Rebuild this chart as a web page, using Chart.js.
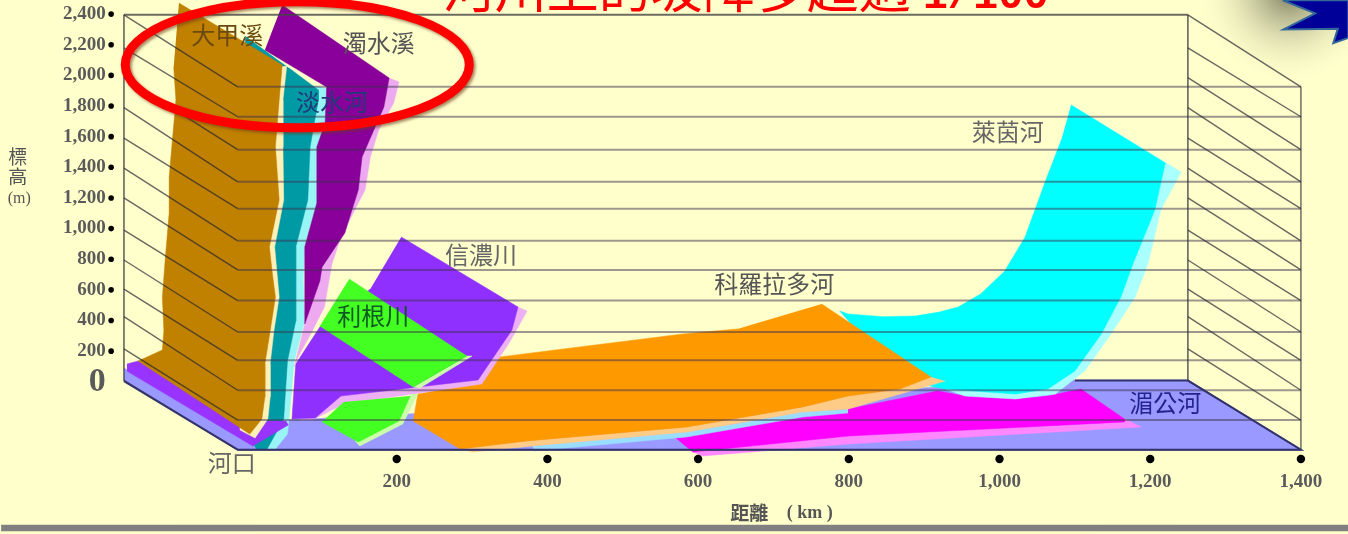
<!DOCTYPE html>
<html>
<head>
<meta charset="utf-8">
<script src="https://cdn.jsdelivr.net/npm/chart.js@4/dist/chart.umd.min.js"></script>
<style>
  html, body { margin: 0; padding: 0; background: #ffffcc; overflow: hidden; }
  canvas { display: block; filter: blur(0.6px); }
</style>
</head>
<body>
<canvas id="grafico" width="1348" height="534"></canvas>
<script>
// tick labels
const kmTicks = [200, 400, 600, 800, 1000, 1200, 1400];
const elevTicks = [0, 200, 400, 600, 800, 1000, 1200, 1400, 1600, 1800, 2000, 2200, 2400];

// wall lines (back plane -> front plane)
const backLevels = [2395, 2180, 1985, 1790, 1590, 1395, 1200, 990, 795, 605, 425, 215, 10];
const frontLevels = [1925, 1730, 1515, 1305, 1130, 920, 730, 530, 325, 140, -55, -250, -445];
const backLeftKm = -162, frontLeftKm = -11, backRightKm = 1250, frontRightKm = 1400;

// floor
const floorKm = [-162, -11, 1400, 1250, 1100, 58, 5, -162];
const floorElev = [5, -439, -439, 12, 12, -249, -380, 90];

// 湄公河
const mekongKm = [569, 593, 799, 1166, 1166, 1108, 1064, 1021, 954, 918, 799, 735, 646];
const mekongElev = [-360, -458, -354, -262, -243, -47, -93, -112, -93, -60, -178, -230, -275];
const mekongEdgeKm = [1166, 1188, 799, 606, 593, 799, 1166];
const mekongEdgeElev = [-243, -295, -406, -484, -458, -354, -262];

// 萊茵河
const rhineKm = [1095, 1220, 1206, 1177, 1161, 1135, 1100, 1064, 1021, 928, 868, 788, 799, 845, 888, 920, 945, 975, 1007, 1034, 1060, 1082];
const rhineElev = [1807, 1428, 1121, 769, 553, 312, 70, -47, -80, -47, 12, 462, 443, 425, 429, 455, 488, 573, 723, 945, 1298, 1578];
const rhineEdgeKm = [1095, 1241, 1214, 1197, 1180, 1148, 1113, 1074, 1021, 954, 928, 1021];
const rhineEdgeElev = [1807, 1369, 1121, 769, 553, 312, 70, -80, -112, -93, -47, -54];

// 科羅拉多河
const coloradoKm = [764, 909, 868, 799, 739, 585, 373, 284, 222, 228, 313, 326, 337, 453, 580, 652];
const coloradoElev = [508, 31, -47, -93, -164, -295, -386, -439, -256, -80, -1, 136, 162, 234, 312, 345];
const coloradoEdgeKm = [928, 799, 739, 585, 381, 301, 284, 373, 585, 739, 799, 868, 909];
const coloradoEdgeElev = [5, -178, -197, -328, -419, -458, -439, -386, -295, -164, -93, -47, 31];
const coloradoBlueKm = [799, 739, 585, 381, 381, 585, 739, 799];
const coloradoBlueElev = [-204, -230, -360, -452, -419, -328, -197, -178];

// 信濃川
const shinanoKm = [206, 361, 353, 308, 218, 126, 92, 61, 66, 98, 165];
const shinanoElev = [945, 488, 338, 12, -40, -93, -236, -243, 116, 358, 606];
const shinanoEdgeKm = [361, 373, 350, 313, 130, 88, 72, 92, 126, 218, 308, 353];
const shinanoEdgeElev = [488, 462, 260, -14, -145, -249, -249, -236, -93, -40, 12, 338];

// 利根川
const toneKm = [137, 293, 222, 98];
const toneElev = [671, 168, -34, 364];
const toneEdgeKm = [293, 300, 231, 222];
const toneEdgeElev = [168, 168, -40, -34];
const toneLowKm = [218, 203, 149, 101, 130];
const toneLowElev = [-93, -256, -393, -262, -132];
const toneLowEdgeKm = [228, 208, 151, 145, 203, 218];
const toneLowEdgeElev = [-80, -275, -419, -386, -236, -80];

// 淡水河
const danshuiKm = [57, 96, 96, 85, 82, 66, 66, 66, 55, 50, 28, 14, -8, -1];
const danshuiElev = [2048, 1905, 1839, 1533, 1187, 880, 658, 397, 136, -243, -439, -439, -249, 2257];
const danshuiEdgeKm = [107, 105, 94, 94, 78, 76, 78, 64, 57, 55, 39, 28, 19, 45];
const danshuiEdgeElev = [1918, 1689, 1533, 1167, 880, 658, 397, 136, -243, -341, -439, -439, 534, 1970];

// 濁水溪
const zhuoshuiKm = [48, 190, 183, 154, 149, 131, 101, 98, 78, 78, 78, 94, 94, 105, 107, 25];
const zhuoshuiElev = [2459, 1983, 1794, 1467, 1252, 971, 749, 658, 377, 658, 880, 1167, 1533, 1689, 1924, 2166];
const zhuoshuiEdgeKm = [190, 203, 196, 176, 165, 158, 149, 126, 114, 104, 88, 69, 64, 78, 98, 101, 131, 149, 154, 183];
const zhuoshuiEdgeElev = [1983, 1957, 1820, 1643, 1467, 1252, 1167, 945, 769, 488, 332, 162, 97, 377, 658, 749, 971, 1252, 1467, 1794];

// 大甲溪
const dajiaKm = [-89, 48, 44, 39, 44, 31, 35, 39, 32, 25, 25, 21, 5, -143, -111, -109, -111, -107, -102, -102, -93, -96];
const dajiaElev = [2472, 2068, 1839, 1533, 1187, 880, 704, 553, 332, 116, -99, -243, -341, 136, 208, 332, 553, 815, 1102, 1337, 1839, 2055];
const dajiaEdgeKm = [54, 49, 49, 50, 38, 44, 37, 32, 32, 29, 12, -8, -8];
const dajiaEdgeElev = [2061, 1839, 1533, 1187, 880, 553, 332, 116, -99, -243, -367, -315, 2035];

// purple strip along the river mouth
const mouthKm = [-158, -143, 5, 29, 53, 56, 9, -158];
const mouthElev = [116, 136, -328, -256, -256, -282, -419, 70];

// decorations cut off by the page edge
const starKm = [1376, 1419, 1377, 1449, 1443, 1463, 1463, 1376];
const starElev = [2490, 2405, 2300, 2305, 2210, 2245, 2490, 2490];
const barKm = [-325, 1463, 1463, -325];
const barElev = [-935, -935, -974, -974];

// river names and axis text
const labelText = ["大甲溪", "濁水溪", "淡水河", "信濃川", "利根川", "科羅拉多河", "萊茵河", "湄公河", "河口"];
const labelKm = [-25, 176, 114, 312, 169, 701, 1011, 1220, -19];
const labelElev = [2264, 2211, 1826, 828, 429, 638, 1630, -138, -530];
const labelColor = ["#6b4a10", "#555", "#203a78", "#666", "#0d5a20", "#555", "#666", "#232390", "#666"];

const toXY = (xs, ys) => xs.map((x, i) => ({ x: x, y: ys[i] }));

function poly(xs, ys, color, border) {
  return {
    data: toXY(xs, ys),
    fill: "shape",
    backgroundColor: color,
    borderColor: border || color,
    borderWidth: border ? 2 : 0.5,
    pointRadius: 0,
    tension: 0,
  };
}

function seg(xs, ys, color, width) {
  return {
    data: toXY(xs, ys),
    fill: false,
    borderColor: color,
    borderWidth: width,
    pointRadius: 0,
  };
}

// back to front, reversed later because Chart.js paints the first dataset last
const layers = [
  poly(barKm, barElev, "#808080"),
  poly(starKm, starElev, "#000099", "#336699"),
  poly(floorKm, floorElev, "#9999ff"),
  poly(mekongEdgeKm, mekongEdgeElev, "#ff88ff"),
  poly(mekongKm, mekongElev, "#ff00ff"),
  poly(rhineEdgeKm, rhineEdgeElev, "#aaffff"),
  poly(rhineKm, rhineElev, "#00ffff"),
  poly(coloradoBlueKm, coloradoBlueElev, "#99ddff"),
  poly(coloradoEdgeKm, coloradoEdgeElev, "#ffcc88"),
  poly(coloradoKm, coloradoElev, "#ff9900"),
  poly(shinanoEdgeKm, shinanoEdgeElev, "#eeb0f5"),
  poly(shinanoKm, shinanoElev, "#9030ff"),
  poly(toneEdgeKm, toneEdgeElev, "#ccffaa"),
  poly(toneKm, toneElev, "#44ff22"),
  poly(toneLowEdgeKm, toneLowEdgeElev, "#ccffaa"),
  poly(toneLowKm, toneLowElev, "#44ff22"),
  poly(danshuiEdgeKm, danshuiEdgeElev, "#99f5f5"),
  poly(danshuiKm, danshuiElev, "#009aa5"),
  poly(zhuoshuiEdgeKm, zhuoshuiEdgeElev, "#eeaaf0"),
  poly(zhuoshuiKm, zhuoshuiElev, "#880099"),
  poly(mouthKm, mouthElev, "#9933ff"),
  poly(dajiaEdgeKm, dajiaEdgeElev, "#fff0b8"),
  poly(dajiaKm, dajiaElev, "#c08000"),
];

// wall lines go over the rivers
const gridColor = "rgba(60,50,80,0.5)";
const hatchColor = "rgba(40,40,50,0.7)";
frontLevels.forEach((level, i) => {
  layers.push(seg([frontLeftKm, frontRightKm], [level, level], gridColor, 2));
  layers.push(seg([backLeftKm, frontLeftKm], [backLevels[i], level], hatchColor, 1.4));
  layers.push(seg([backRightKm, frontRightKm], [backLevels[i], level], hatchColor, 1.4));
});
layers.push(seg([backLeftKm, backRightKm], [2395, 2395], "rgba(70,70,70,0.8)", 2));
layers.push(seg([backLeftKm, backLeftKm], [2395, 5], "rgba(50,50,60,0.8)", 1.5));
layers.push(seg([backRightKm, backRightKm], [2395, 5], "rgba(50,50,60,0.8)", 1.5));
layers.push(seg([frontRightKm, frontRightKm], [1925, -445], "rgba(50,50,60,0.7)", 1.5));
layers.push(seg([backLeftKm, frontLeftKm, frontRightKm, backRightKm, 1100], [5, -443, -443, 8, 8], "#33336e", 2));

// tick dots
layers.push({
  data: elevTicks.filter((v) => v > 0).map((v) => ({ x: -179, y: v })),
  showLine: false,
  pointRadius: 2.8,
  pointBackgroundColor: "#000",
  pointBorderWidth: 0,
});
layers.push({
  data: kmTicks.map((v) => ({ x: v, y: -504 })),
  showLine: false,
  pointRadius: 4.2,
  pointBackgroundColor: "#000",
  pointBorderWidth: 0,
});

const decorations = {
  id: "decorations",
  beforeDraw(chart) {
    const { ctx, scales } = chart;
    ctx.save();
    ctx.fillStyle = "#ffffcc";
    ctx.fillRect(0, 0, chart.width, chart.height);
    // soft shadow under the star
    const sx = scales.x.getPixelForValue(1385);
    const sy = scales.y.getPixelForValue(2557);
    const glow = ctx.createRadialGradient(sx, sy, 5, sx, sy, 95);
    glow.addColorStop(0, "rgba(110,110,85,0.85)");
    glow.addColorStop(1, "rgba(255,255,204,0)");
    ctx.fillStyle = glow;
    ctx.fillRect(sx - 100, 0, 200, 90);
    ctx.restore();
  },
  afterDatasetsDraw(chart) {
    const { ctx, scales } = chart;
    const px = (v) => scales.x.getPixelForValue(v);
    const py = (v) => scales.y.getPixelForValue(v);
    ctx.save();
    ctx.textAlign = "center";
    ctx.textBaseline = "middle";
    ctx.font = '24px "Noto Sans CJK TC"';
    labelText.forEach((t, i) => {
      ctx.fillStyle = labelColor[i];
      ctx.fillText(t, px(labelKm[i]), py(labelElev[i]));
    });
    // axis titles
    ctx.fillStyle = "#555";
    ctx.font = 'bold 19px "Noto Sans CJK TC"';
    ctx.fillText("距離", px(668), py(-856));
    ctx.font = 'bold 18px "Liberation Serif"';
    ctx.fillText("( km )", px(748), py(-856));
    ctx.font = '19px "Noto Sans CJK TC"';
    ctx.fillText("標", px(-303), py(1467));
    ctx.fillText("高", px(-303), py(1337));
    ctx.font = '16px "Liberation Serif"';
    ctx.fillText("(m)", px(-301), py(1193));
    // title, cut by the top of the page
    ctx.fillStyle = "#ff0000";
    ctx.textAlign = "left";
    ctx.textBaseline = "alphabetic";
    ctx.font = '52px "Noto Sans CJK TC"';
    ctx.fillText("河川上的坡降多超過", px(261), py(2440));
    ctx.font = 'bold 42px "Liberation Mono"';
    ctx.fillText("1/100", px(898), py(2440));
    // red ring around the Taiwan rivers
    ctx.strokeStyle = "#ff0000";
    ctx.lineWidth = 9;
    ctx.shadowColor = "rgba(110,60,30,0.6)";
    ctx.shadowBlur = 3;
    ctx.shadowOffsetX = 2;
    ctx.shadowOffsetY = 2;
    ctx.beginPath();
    ctx.ellipse(px(68), py(2070), 172, 63, 0, 0, Math.PI * 2);
    ctx.stroke();
    ctx.restore();
  },
};

// the axes sit inside the plot, they must not shrink it
function noAxisPadding(scale) {
  scale.paddingTop = 0;
  scale.paddingBottom = 0;
  scale.paddingLeft = 0;
  scale.paddingRight = 0;
}

const ctx = document.getElementById("grafico").getContext("2d");

new Chart(ctx, {
  type: "line",
  data: { datasets: layers.reverse() },
  plugins: [decorations],
  options: {
    responsive: false,
    animation: false,
    layout: { padding: 0, autoPadding: false },
    plugins: { legend: { display: false }, tooltip: { enabled: false } },
    scales: {
      x: {
        type: "linear",
        min: -326.5,
        max: 1462.5,
        position: { y: -564 },
        afterBuildTicks: (s) => { s.ticks = kmTicks.map((v) => ({ value: v })); },
        afterFit: noAxisPadding,
        grid: { display: false, drawTicks: false },
        border: { display: false },
        ticks: {
          autoSkip: false,
          maxRotation: 0,
          padding: 2,
          color: "#5a5a5a",
          font: { family: "Liberation Serif", size: 19, weight: "bold" },
          callback: (v) => v.toLocaleString("en-US"),
        },
      },
      y: {
        type: "linear",
        min: -993.4,
        max: 2492,
        position: { x: -186 },
        afterBuildTicks: (s) => { s.ticks = elevTicks.map((v) => ({ value: v })); },
        afterFit: noAxisPadding,
        grid: { display: false, drawTicks: false },
        border: { display: false },
        ticks: {
          autoSkip: false,
          padding: 3,
          color: "#5a5a5a",
          font: (c) => ({ family: "Liberation Serif", weight: "bold", size: c.tick && c.tick.value === 0 ? 34 : 19 }),
          callback: (v) => v.toLocaleString("en-US"),
        },
      },
    },
  },
});
</script>
</body>
</html>
